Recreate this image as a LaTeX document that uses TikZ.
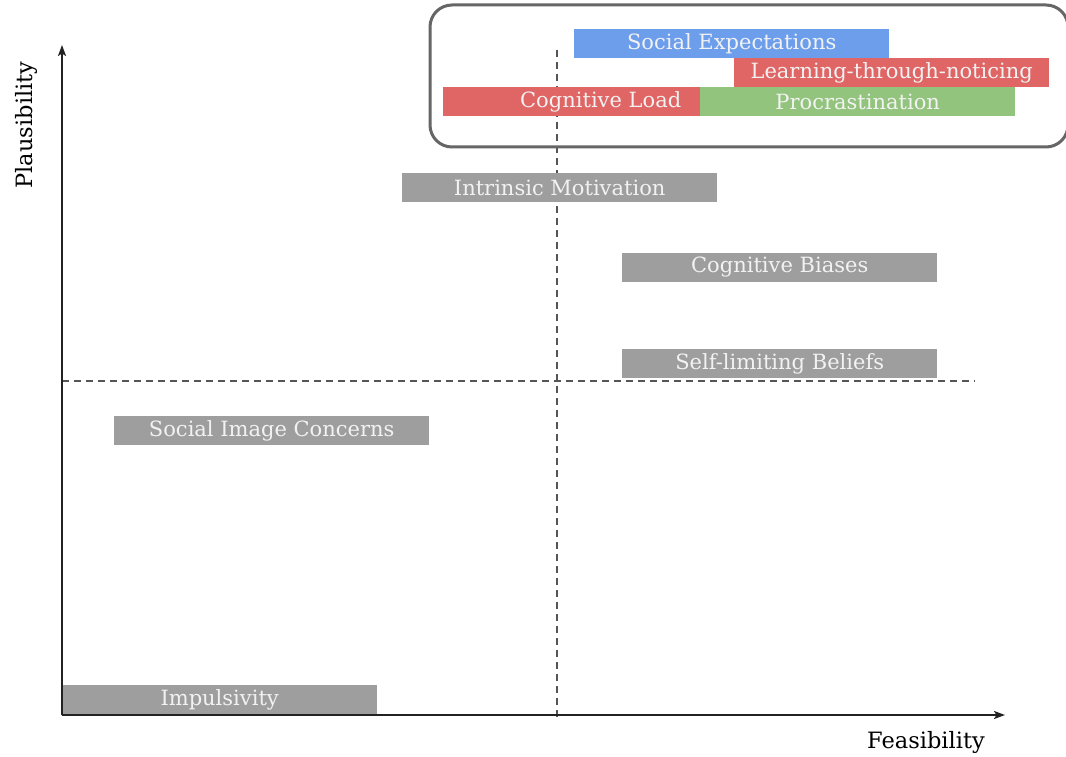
\documentclass[tikz,border=0pt]{standalone}
\usepackage{fontspec}
\setmainfont{DejaVu Serif}
\usetikzlibrary{arrows.meta}
\definecolor{barblue}{HTML}{6D9EEB}
\definecolor{barred}{HTML}{E06666}
\definecolor{bargreen}{HTML}{93C47D}
\definecolor{bargray}{HTML}{9E9E9E}
\definecolor{axisdark}{HTML}{222222}
\definecolor{guide}{HTML}{555555}
\definecolor{framegray}{HTML}{666666}
\tikzset{
  bar/.style={fill=#1, draw=none, text=white!95!black, font=\fontsize{21}{21}\selectfont,
    minimum width=315pt, minimum height=28.5pt, inner sep=0pt, anchor=north west},
  axis/.style={draw=axisdark, line width=1.6pt, -{Stealth[length=11pt,width=8pt,inset=2.5pt]}},
  guideline/.style={draw=guide, line width=1.3pt, dash pattern=on 7pt off 5pt},
  axislabel/.style={text=black, font=\fontsize{22.5}{22.5}\selectfont, inner sep=0pt}
}
\begin{document}
\begin{tikzpicture}[x=1pt,y=-1pt]
\useasboundingbox (0,0) rectangle (1066,757);
\fill[white] (0,0) rectangle (1066,757);

% quadrant guides
\coordinate (vtop) at (557,50);
\coordinate (vbot) at (557,719);
\coordinate (hleft) at (62,381);
\coordinate (hright) at (975,381);
\draw[guideline] (vtop) -- (vbot);
\draw[guideline] (hleft) -- (hright);

% highlighted group frame
\draw[framegray, line width=3pt, rounded corners=22pt] (430,5) rectangle (1068,147);

% bars
\node[bar=barblue] (social) at (574,29) {Social Expectations};
\node[bar=barred] (learning) at (734,58) {Learning-through-noticing};
\node[bar=barred] (load) at (443,87) {Cognitive Load};
\node[bar=bargreen] (procr) at (700,87) {Procrastination};
\node[bar=bargray] (intrinsic) at (402,173) {Intrinsic Motivation};
\node[bar=bargray] (biases) at (622,253) {Cognitive Biases};
\node[bar=bargray] (selflim) at (622,349) {Self-limiting Beliefs};
\node[bar=bargray] (image) at (114,416) {Social Image Concerns};
\node[bar=bargray] (impuls) at (62,685) {Impulsivity};

% axes
\coordinate (origin) at (62,715);
\coordinate (ytip) at (62,45);
\coordinate (xtip) at (1005,715);
\draw[axis] (origin) -- (ytip);
\draw[axis] (origin) -- (xtip);
\node[axislabel, rotate=90] (ylab) at (26,125) {Plausibility};
\node[axislabel] (xlab) at (926,742) {Feasibility};
\end{tikzpicture}
\end{document}
